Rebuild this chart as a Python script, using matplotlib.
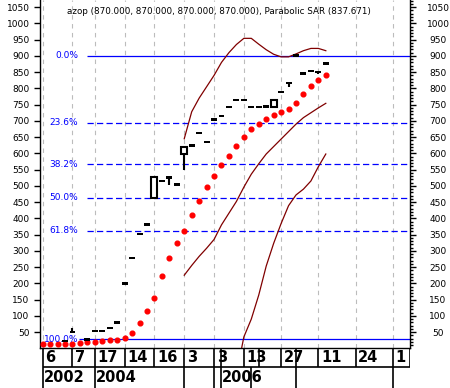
import numpy as np
import matplotlib.pyplot as plt
import matplotlib.transforms as mtransforms
from matplotlib.ticker import MultipleLocator

# price bars (index, open, high, low, close)
bar_pos = [3, 4, 6, 7, 8, 9, 10, 11, 12, 13, 14, 15, 16, 17, 18, 19, 20, 21, 22,
           23, 24, 25, 26, 27, 28, 29, 30, 31, 32, 33, 34, 35, 36, 37, 38]
opens = [22, 50, 28, 53, 53, 62, 80, 200, 278, 352, 382, 464, 515, 525, 505, 597, 625, 663, 635,
         705, 715, 743, 764, 764, 743, 743, 745, 743, 789, 817, 902, 845, 853, 850, 877]
closes = [22, 50, 28, 53, 53, 62, 80, 200, 278, 352, 382, 528, 515, 525, 505, 620, 625, 663, 635,
          705, 715, 743, 764, 764, 743, 743, 745, 764, 789, 817, 902, 845, 853, 850, 877]
highs = [22, 62, 28, 53, 53, 62, 80, 200, 278, 352, 382, 528, 515, 525, 505, 620, 625, 663, 635,
         705, 715, 743, 764, 764, 743, 743, 745, 764, 789, 817, 902, 845, 853, 850, 877]
lows = [22, 50, 28, 53, 53, 62, 80, 200, 278, 352, 382, 464, 515, 502, 505, 550, 625, 663, 635,
        705, 715, 743, 764, 764, 743, 743, 745, 743, 789, 803, 902, 845, 853, 845, 877]

# parabolic SAR, one per bar from index 0
sar = [13, 13, 13, 13, 13, 17, 18, 20, 23, 25, 26, 32, 48, 77, 115, 155, 223, 278, 325, 361,
       410, 454, 497, 530, 564, 592, 623, 651, 674, 691, 706, 718, 727, 737, 754, 783, 807, 825, 841]

# dark red curves
upper_start = 19
upper = [645, 728, 770, 805, 840, 880, 910, 935, 954, 954, 936, 919, 905, 897, 897, 906, 916, 923, 923, 916]
middle_start = 19
middle = [225, 255, 283, 308, 335, 380, 416, 452, 496, 536, 568, 598, 621, 644, 667, 690, 710, 725, 740, 754]
lower_start = 26
lower = [-80, 35, 90, 164, 253, 323, 384, 439, 472, 490, 515, 559, 598]

# fibonacci retracement
fib_high = 900
fib_low = 28
fib_levels = [0.0, 23.6, 38.2, 50.0, 61.8, 100.0]

# x axis labels
grid_pos = [0, 4, 7, 11, 15, 19, 23, 27, 32, 37, 42, 47]
day_labels = ['6', '7', '17', '14', '16', '3', '3', '13', '27', '11', '24', '1']
day_pos = [0, 4, 7, 11, 15, 19, 23, 27, 32, 37, 42, 47]
row1_lines = [0, 4, 7, 11, 15, 19, 23, 24, 27, 29, 32, 34, 37, 42, 47]
year_labels = ['2002', '2004', '2006']
year_pos = [0, 7, 24]
row2_lines = [0, 7, 19, 23, 24, 28, 34, 47]

title = 'azop (870.000, 870.000, 870.000, 870.000), Parabolic SAR (837.671)'

W, H = 450, 388
fig = plt.figure(figsize=(W / 100, H / 100), dpi=100)
ax = fig.add_axes([40 / W, 40 / H, 370 / W, 348 / H])
xmin, xmax = -0.36, 49.3
ax.set_xlim(xmin, xmax)
ax.set_ylim(1, 1072)

fs = 6.5
for g in grid_pos:
    ax.axvline(g, color='#bcbcbc', lw=0.8, ls=(0, (4, 4)), zorder=1)

# fib lines
rng = fib_high - fib_low
for lev in fib_levels:
    y = fib_high - rng * lev / 100
    start = 4.9 if lev == 100.0 else 5.95
    ls = '-' if lev in (0.0, 100.0) else (0, (5, 2.6))
    ax.hlines(y, start, xmax, color='#0000ff', lw=0.9, linestyles=ls, zorder=2)
    ax.text(4.75, y, f'{lev:.1f}%', color='#0000ff', fontsize=fs, ha='right', va='center', zorder=5)

# curves
ax.plot(np.arange(upper_start, upper_start + len(upper)), upper, color='#800000', lw=0.9, zorder=3)
ax.plot(np.arange(middle_start, middle_start + len(middle)), middle, color='#800000', lw=0.9, zorder=3)
ax.plot(np.arange(lower_start, lower_start + len(lower)), lower, color='#800000', lw=0.9, zorder=3)

# SAR dots
ax.plot(np.arange(len(sar)), sar, ls='none', marker='o', ms=3.4, color='#ff0000', mec='#ff0000', zorder=4)

# bars
min_h = 8
for x, o, h, l, c in zip(bar_pos, opens, highs, lows, closes):
    ax.vlines(x, l, h, color='black', lw=1.5, zorder=4)
    body = abs(c - o)
    if body < min_h:
        ax.bar(x, min_h, bottom=(o + c) / 2 - min_h / 2, width=0.8, color='black', zorder=5)
    else:
        ax.bar(x, body, bottom=min(o, c), width=0.8, facecolor='white', edgecolor='black', lw=1.5, zorder=5)

# axes styling
ax.spines['top'].set_visible(False)
for s in ('left', 'right', 'bottom'):
    ax.spines[s].set_linewidth(1)
ax.set_xticks([])
ax.set_yticks(np.arange(50, 1051, 50))
ax.yaxis.set_minor_locator(MultipleLocator(10))
ax.tick_params(axis='y', which='major', left=True, right=True, labelleft=True, labelright=True,
               length=4, width=1, labelsize=fs, pad=3.5, direction='out')
ax.tick_params(axis='y', which='minor', left=False, right=True, length=2.2, width=1, direction='out')
# right labels centred about 28 px right of the spine
for t in ax.yaxis.get_major_ticks():
    t.label2.set_horizontalalignment('center')
    t.label2.set_transform(ax.get_yaxis_transform(which='tick2') +
                           mtransforms.ScaledTranslation(28 / 100, 0, fig.dpi_scale_trans))

ax.text(27 / 370, 1 - 11 / 348, title, transform=ax.transAxes, fontsize=6.3,
        ha='left', va='center')

# bottom date box
bx = fig.add_axes([40 / W, 0, 370 / W, 40 / H], sharex=ax)
bx.set_ylim(0, 40)
bx.axis('off')
bx.hlines(21, 0, xmax, color='black', lw=1.2)
bx.vlines(row1_lines + [xmax - 0.05], 21, 40, color='black', lw=1.2)
bx.vlines(row2_lines, 0, 21, color='black', lw=1.2)
for p, s in zip(day_pos, day_labels):
    bx.text(p + 0.35, 30.5, s, fontsize=10.5, fontweight='bold', ha='left', va='center')
for p, s in zip(year_pos, year_labels):
    bx.text(p + 0.1, 10, s, fontsize=10.5, fontweight='bold', ha='left', va='center')

fig.savefig('out.png', dpi=100)
